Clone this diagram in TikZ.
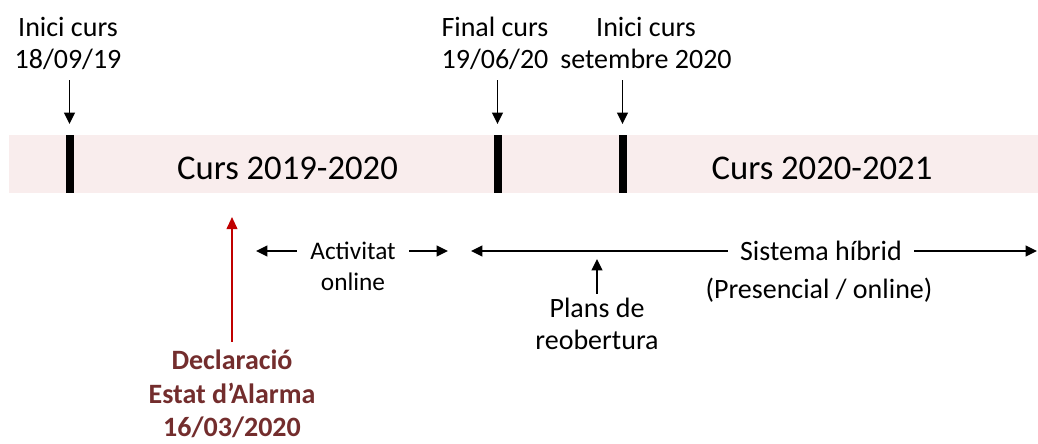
\documentclass[tikz,border=0pt]{standalone}
\usepackage{fontspec}
\setmainfont{Carlito}
\usetikzlibrary{arrows.meta}
\definecolor{bande}{RGB}{249,237,237}
\definecolor{rouge}{RGB}{192,0,0}
\definecolor{bordeaux}{RGB}{115,45,45}

\begin{document}
\begin{tikzpicture}[x=0.75pt,y=-0.75pt]
\tikzset{etiq/.style={align=center, inner sep=0pt, font=\fontsize{21}{24}\selectfont},
  petit/.style={inner sep=0pt, inner xsep=10pt, font=\fontsize{19}{24}\selectfont},
  titre/.style={anchor=base, inner sep=0pt, font=\fontsize{26}{30}\selectfont},
  barre/.style={fill=black, inner sep=0pt, minimum width=6pt, minimum height=43.5pt},
  fleche/.style={-{Triangle[length=8.5pt,width=8pt]}, line width=1.2pt},
  flecherouge/.style={-{Triangle[length=9pt,width=8pt]}, line width=1.3pt, draw=rouge, fill=rouge}}
\useasboundingbox (0,0) rectangle (1038,443);
\fill[bande] (9,135) rectangle (1038,193);
\node[barre] (B1) at (69.5,164) {};
\node[barre] (B2) at (497.5,164) {};
\node[barre] (B3) at (622.5,164) {};
\node[titre] (C1) at (287.5,179) {Curs 2019-2020};
\node[titre] (C2) at (822,179) {Curs 2020-2021};
\node[etiq] (E1) at (68,43) {Inici curs\\18/09/19};
\node[etiq] (E2) at (495,43) {Final curs\\19/06/20};
\node[etiq] (E3) at (646,43) {Inici curs\\setembre 2020};
\coordinate (A1) at (69.5,80);
\coordinate (A2) at (497.5,80);
\coordinate (A3) at (622.5,80);
\draw[fleche, shorten >=8pt] (A1) -- (B1);
\draw[fleche, shorten >=8pt] (A2) -- (B2);
\draw[fleche, shorten >=8pt] (A3) -- (B3);
% declaracio
\node[etiq, font=\fontsize{21}{25}\selectfont\bfseries, text=bordeaux] (D) at (232,394) {Declaració\\Estat d’Alarma\\16/03/2020};
\coordinate (R) at (232,217);
\draw[flecherouge, shorten <=6pt] (D) -- (R);
% activitat online
\node[petit] (Act) at (353,251) {Activitat};
\node[petit] (Onl) at (353,282) {online};
\coordinate (ActG) at (256,251);
\coordinate (ActD) at (448,251);
\draw[fleche] (Act) -- (ActG);
\draw[fleche] (Act) -- (ActD);
% sistema hibrid
\node[etiq, inner xsep=9pt] (H) at (821,251) {Sistema híbrid};
\node[etiq] (Pres) at (819,290) {(Presencial / online)};
\coordinate (HG) at (471,251);
\coordinate (HD) at (1037,251);
\draw[fleche] (H) -- (HG);
\draw[fleche] (H) -- (HD);
% plans
\node[etiq, inner sep=3pt] (P) at (597,324) {Plans de\\reobertura};
\coordinate (PT) at (597,259);
\draw[fleche] (P) -- (PT);
\end{tikzpicture}
\end{document}
